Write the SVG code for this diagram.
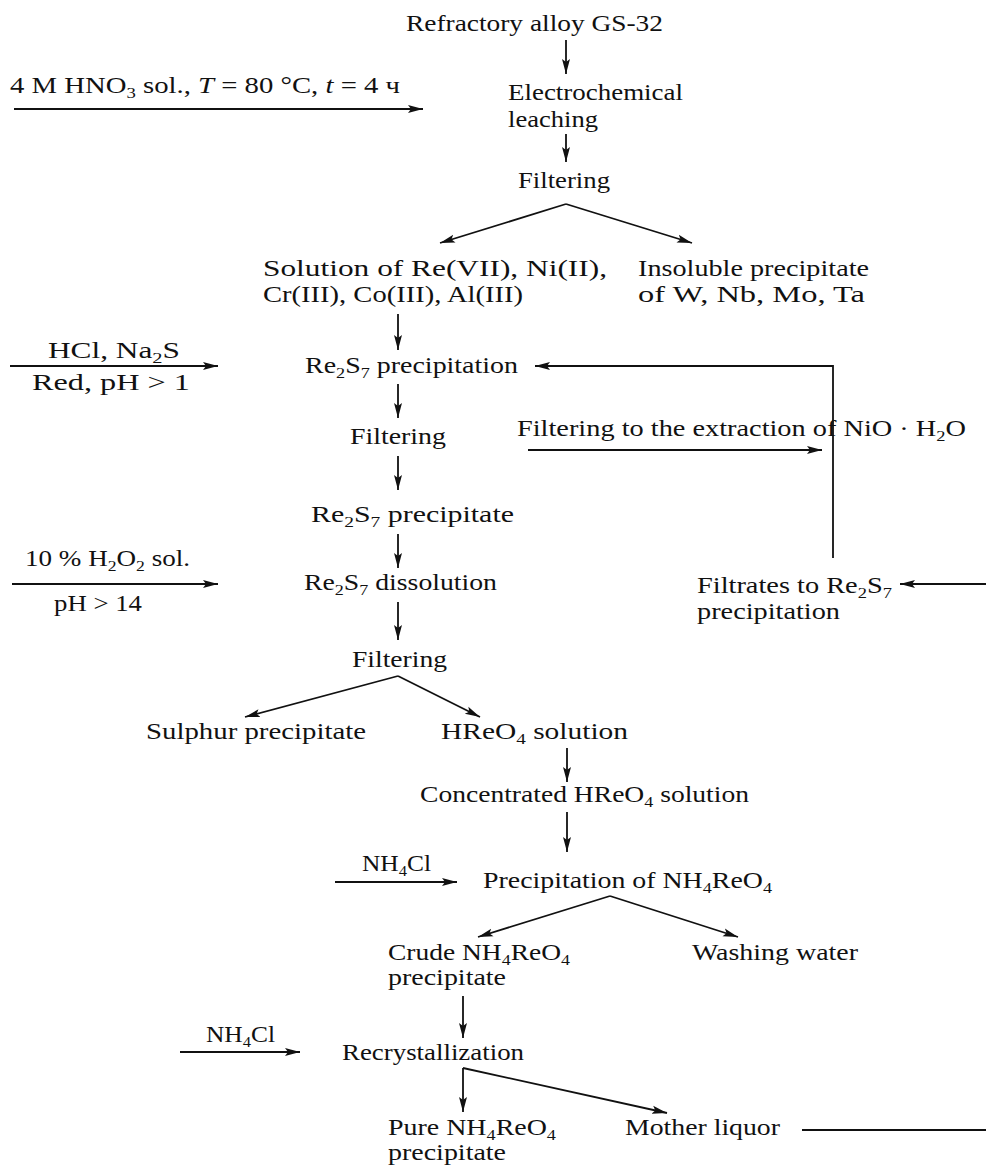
<svg xmlns="http://www.w3.org/2000/svg" width="986" height="1165" viewBox="0 0 986 1165">
<style>
.t{font-family:"Liberation Serif","Times New Roman",serif;font-size:23px;fill:#111}
.i{font-style:italic}
.sub{font-size:15px}
.c{stroke:#111;stroke-width:1.8;fill:none}
</style>
<defs>
<marker id="ah" markerUnits="userSpaceOnUse" markerWidth="16" markerHeight="10" refX="15" refY="5" orient="auto">
<path d="M0,1 L15,5 L0,9 L3,5 Z" fill="#111"/>
</marker>
</defs>
<rect width="986" height="1165" fill="#fff"/>

<g id="connectors">
<line class="c" x1="566" y1="40" x2="566" y2="74" marker-end="url(#ah)"/>
<line class="c" x1="14" y1="109" x2="423" y2="109" marker-end="url(#ah)"/>
<line class="c" x1="566" y1="134" x2="566" y2="162" marker-end="url(#ah)"/>
<line class="c" x1="566" y1="204" x2="440" y2="243" marker-end="url(#ah)"/>
<line class="c" x1="566" y1="204" x2="692" y2="243" marker-end="url(#ah)"/>
<line class="c" x1="398" y1="314" x2="398" y2="350" marker-end="url(#ah)"/>
<line class="c" x1="10" y1="366" x2="218" y2="366" marker-end="url(#ah)"/>
<path class="c" d="M833,558 V366 H535" marker-end="url(#ah)"/>
<line class="c" x1="398" y1="384" x2="398" y2="418" marker-end="url(#ah)"/>
<line class="c" x1="528" y1="450" x2="822" y2="450" marker-end="url(#ah)"/>
<line class="c" x1="398" y1="456" x2="398" y2="490" marker-end="url(#ah)"/>
<line class="c" x1="398" y1="534" x2="398" y2="568" marker-end="url(#ah)"/>
<line class="c" x1="12" y1="584" x2="218" y2="584" marker-end="url(#ah)"/>
<line class="c" x1="398" y1="602" x2="398" y2="640" marker-end="url(#ah)"/>
<line class="c" x1="986" y1="584" x2="900" y2="584" marker-end="url(#ah)"/>
<line class="c" x1="398" y1="676" x2="245" y2="717" marker-end="url(#ah)"/>
<line class="c" x1="398" y1="676" x2="480" y2="717" marker-end="url(#ah)"/>
<line class="c" x1="567" y1="748" x2="567" y2="782" marker-end="url(#ah)"/>
<line class="c" x1="567" y1="812" x2="567" y2="852" marker-end="url(#ah)"/>
<line class="c" x1="335" y1="882" x2="457" y2="882" marker-end="url(#ah)"/>
<line class="c" x1="610" y1="896" x2="478" y2="937" marker-end="url(#ah)"/>
<line class="c" x1="610" y1="896" x2="738" y2="937" marker-end="url(#ah)"/>
<line class="c" x1="463" y1="996" x2="463" y2="1038" marker-end="url(#ah)"/>
<line class="c" x1="180" y1="1052" x2="300" y2="1052" marker-end="url(#ah)"/>
<line class="c" x1="463" y1="1068" x2="463" y2="1112" marker-end="url(#ah)"/>
<path class="c" d="M463,1068 L667,1113" marker-end="url(#ah)"/>
<line class="c" x1="802" y1="1130" x2="986" y2="1130"/>
</g>

<g id="n-alloy"><text class="t" x="406" y="31" textLength="257" lengthAdjust="spacingAndGlyphs">Refractory alloy GS-32</text></g>
<g id="n-hno3"><text class="t" x="10" y="93" textLength="390" lengthAdjust="spacingAndGlyphs">4 M HNO<tspan class="sub" dy="5">3</tspan><tspan dy="-5"> sol.,  </tspan><tspan class="i">T</tspan> = 80 °C,  <tspan class="i">t</tspan> = 4 ч</text></g>
<g id="n-leach"><text class="t" x="508" y="100" textLength="175" lengthAdjust="spacingAndGlyphs">Electrochemical</text><text class="t" x="508" y="127" textLength="90" lengthAdjust="spacingAndGlyphs">leaching</text></g>
<g id="n-filter1"><text class="t" x="518" y="188" textLength="92" lengthAdjust="spacingAndGlyphs">Filtering</text></g>
<g id="n-solution"><text class="t" x="263" y="276" textLength="344" lengthAdjust="spacingAndGlyphs">Solution of  Re(VII),  Ni(II),</text><text class="t" x="263" y="302" textLength="260" lengthAdjust="spacingAndGlyphs">Cr(III),  Co(III),  Al(III)</text></g>
<g id="n-insoluble"><text class="t" x="638" y="276" textLength="231" lengthAdjust="spacingAndGlyphs">Insoluble precipitate</text><text class="t" x="638" y="302" textLength="227" lengthAdjust="spacingAndGlyphs">of  W,  Nb,  Mo,  Ta</text></g>
<g id="n-hcl"><text class="t" x="48" y="358" textLength="132" lengthAdjust="spacingAndGlyphs">HCl,  Na<tspan class="sub" dy="5">2</tspan><tspan dy="-5">S</tspan></text><text class="t" x="32" y="390" textLength="158" lengthAdjust="spacingAndGlyphs">Red,  pH &gt; 1</text></g>
<g id="n-re2s7prec"><text class="t" x="305" y="373" textLength="213" lengthAdjust="spacingAndGlyphs">Re<tspan class="sub" dy="5">2</tspan><tspan dy="-5">S</tspan><tspan class="sub" dy="5">7</tspan><tspan dy="-5"> precipitation</tspan></text></g>
<g id="n-filter2"><text class="t" x="350" y="444" textLength="96" lengthAdjust="spacingAndGlyphs">Filtering</text></g>
<g id="n-nio"><text class="t" x="517" y="436" textLength="449" lengthAdjust="spacingAndGlyphs">Filtering to the extraction of  NiO · H<tspan class="sub" dy="5">2</tspan><tspan dy="-5">O</tspan></text></g>
<g id="n-re2s7precipitate"><text class="t" x="311" y="522" textLength="203" lengthAdjust="spacingAndGlyphs">Re<tspan class="sub" dy="5">2</tspan><tspan dy="-5">S</tspan><tspan class="sub" dy="5">7</tspan><tspan dy="-5"> precipitate</tspan></text></g>
<g id="n-h2o2"><text class="t" x="25" y="566" textLength="165" lengthAdjust="spacingAndGlyphs">10 %  H<tspan class="sub" dy="5">2</tspan><tspan dy="-5">O</tspan><tspan class="sub" dy="5">2</tspan><tspan dy="-5"> sol.</tspan></text><text class="t" x="54" y="611" textLength="88" lengthAdjust="spacingAndGlyphs">pH &gt; 14</text></g>
<g id="n-dissolution"><text class="t" x="304" y="590" textLength="193" lengthAdjust="spacingAndGlyphs">Re<tspan class="sub" dy="5">2</tspan><tspan dy="-5">S</tspan><tspan class="sub" dy="5">7</tspan><tspan dy="-5">  dissolution</tspan></text></g>
<g id="n-filtrates"><text class="t" x="697" y="593" textLength="195" lengthAdjust="spacingAndGlyphs">Filtrates to Re<tspan class="sub" dy="5">2</tspan><tspan dy="-5">S</tspan><tspan class="sub" dy="5">7</tspan></text><text class="t" x="697" y="619" textLength="143" lengthAdjust="spacingAndGlyphs">precipitation</text></g>
<g id="n-filter3"><text class="t" x="352" y="667" textLength="95" lengthAdjust="spacingAndGlyphs">Filtering</text></g>
<g id="n-sulphur"><text class="t" x="146" y="739" textLength="220" lengthAdjust="spacingAndGlyphs">Sulphur precipitate</text></g>
<g id="n-hreo4"><text class="t" x="441" y="739" textLength="187" lengthAdjust="spacingAndGlyphs">HReO<tspan class="sub" dy="5">4</tspan><tspan dy="-5">  solution</tspan></text></g>
<g id="n-conc"><text class="t" x="420" y="802" textLength="329" lengthAdjust="spacingAndGlyphs">Concentrated HReO<tspan class="sub" dy="5">4</tspan><tspan dy="-5"> solution</tspan></text></g>
<g id="n-nh4cl1"><text class="t" x="362" y="871" textLength="69" lengthAdjust="spacingAndGlyphs">NH<tspan class="sub" dy="5">4</tspan><tspan dy="-5">Cl</tspan></text></g>
<g id="n-precnh4"><text class="t" x="483" y="888" textLength="289" lengthAdjust="spacingAndGlyphs">Precipitation of NH<tspan class="sub" dy="5">4</tspan><tspan dy="-5">ReO</tspan><tspan class="sub" dy="5">4</tspan></text></g>
<g id="n-crude"><text class="t" x="388" y="960" textLength="182" lengthAdjust="spacingAndGlyphs">Crude NH<tspan class="sub" dy="5">4</tspan><tspan dy="-5">ReO</tspan><tspan class="sub" dy="5">4</tspan></text><text class="t" x="388" y="985" textLength="118" lengthAdjust="spacingAndGlyphs">precipitate</text></g>
<g id="n-washing"><text class="t" x="692" y="960" textLength="166" lengthAdjust="spacingAndGlyphs">Washing water</text></g>
<g id="n-nh4cl2"><text class="t" x="206" y="1042" textLength="69" lengthAdjust="spacingAndGlyphs">NH<tspan class="sub" dy="5">4</tspan><tspan dy="-5">Cl</tspan></text></g>
<g id="n-recryst"><text class="t" x="342" y="1060" textLength="182" lengthAdjust="spacingAndGlyphs">Recrystallization</text></g>
<g id="n-pure"><text class="t" x="388" y="1135" textLength="168" lengthAdjust="spacingAndGlyphs">Pure NH<tspan class="sub" dy="5">4</tspan><tspan dy="-5">ReO</tspan><tspan class="sub" dy="5">4</tspan></text><text class="t" x="388" y="1160" textLength="118" lengthAdjust="spacingAndGlyphs">precipitate</text></g>
<g id="n-mother"><text class="t" x="625" y="1135" textLength="155" lengthAdjust="spacingAndGlyphs">Mother liquor</text></g>
</svg>
